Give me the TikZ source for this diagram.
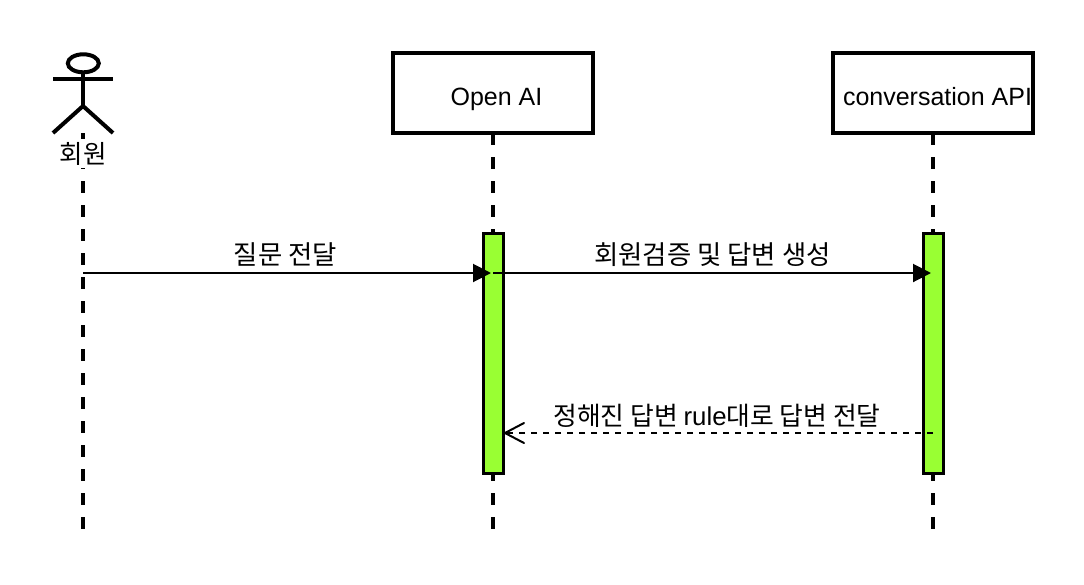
\documentclass[tikz,border=0pt]{standalone}
\usepackage{fontspec}
\setmainfont{Liberation Sans}
\newfontfamily\kofont{Noto Sans CJK KR}
\usetikzlibrary{arrows.meta,shapes.geometric}
\definecolor{acid}{HTML}{99FF33}
\tikzset{
  lifebox/.style={draw=black,line width=4pt,fill=white,minimum width=200pt,minimum height=80pt,inner sep=0pt,outer sep=0pt,text height=24pt,text depth=0pt,font=\fontsize{25}{28}\selectfont},
  lifeline/.style={draw=black,line width=4pt,dash pattern=on 12pt off 12pt},
  activation/.style={draw=black,line width=3pt,fill=acid,minimum width=20pt,minimum height=240pt,inner sep=0pt,outer sep=0pt},
  limb/.style={draw=black,line width=4pt},
  callmsg/.style={draw=black,line width=2pt,-{Triangle[length=18pt,width=18pt]}},
  replymsg/.style={draw=black,line width=2pt,dash pattern=on 6pt off 6pt,-{Straight Barb[length=19pt,width=20pt,line width=2pt,round=false]}},
  msglabel/.style={inner sep=0pt,anchor=base,font=\fontsize{26.4}{30}\selectfont},
  actorlabel/.style={fill=white,inner sep=0pt,minimum width=47pt,minimum height=29pt,font=\fontsize{25.5}{30}\selectfont\kofont}
}
\begin{document}
\begin{tikzpicture}[x=1pt,y=-1pt]
\useasboundingbox (0,0) rectangle (1084,584);
% actor
\node[draw=black,line width=4pt,shape=ellipse,minimum width=31pt,minimum height=18pt,inner sep=0pt,outer sep=0pt] (head) at (83.3,63.3) {};
\coordinate (neck) at (83,72);
\coordinate (armL) at (53,79);
\coordinate (armR) at (113,79);
\coordinate (hip) at (83,106);
\coordinate (legL) at (53,133);
\coordinate (legR) at (113,133);
\draw[limb] (neck) -- (hip);
\draw[limb] (armL) -- (armR);
\draw[limb] (legL) -- (hip) -- (legR);
% lifelines
\coordinate (actorfoot) at (83,133);
\node[lifebox] (openai) at (493,93) {\hspace*{7pt}Open AI};
\node[lifebox] (conv) at (933,93) {\hspace*{9pt}conversation API};
\coordinate (end1) at (83,533);
\coordinate (end2) at (493,533);
\coordinate (end3) at (933,533);
\draw[lifeline] (actorfoot) -- (end1);
\draw[lifeline] (openai.south) -- (end2);
\draw[lifeline] (conv.south) -- (end3);
\node[actorlabel] (actorname) at (83,153.5) {회원};
% activations
\node[activation] (act2) at (493,353) {};
\node[activation] (act3) at (933,353) {};
% messages
\coordinate (m1a) at (83,273);
\coordinate (m1b) at (491,273);
\coordinate (m2a) at (493,273);
\coordinate (m2b) at (931,273);
\coordinate (m3a) at (933,433);
\coordinate (m3b) at (504,433);
\draw[callmsg] (m1a) -- (m1b);
\draw[callmsg] (m2a) -- (m2b);
\draw[replymsg] (m3a) -- (m3b);
\node[msglabel] (l1) at (285.5,264) {\kofont 질문 전달};
\node[msglabel] (l2) at (712.5,264) {\kofont 회원검증 및 답변 생성};
\node[msglabel,font=\fontsize{25.8}{30}\selectfont] (l3) at (717,425) {\kofont 정해진 답변 {\rmfamily rule}대로 답변 전달};
\end{tikzpicture}
\end{document}
